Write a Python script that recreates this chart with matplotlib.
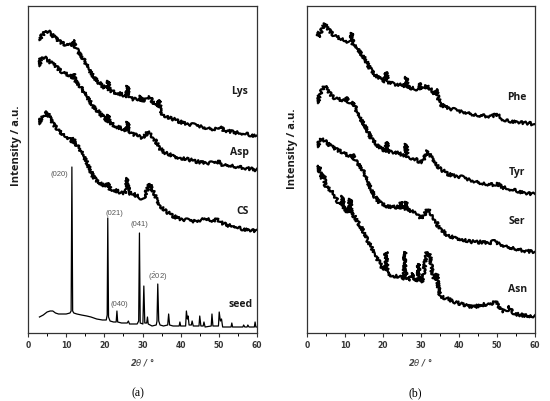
import matplotlib
matplotlib.use("Agg")
import matplotlib.pyplot as plt
from matplotlib.ticker import MultipleLocator


# ---- panel (a) ----
lys_x = [3.0, 3.5, 4.0, 4.5, 5.0, 5.5, 6.0, 6.6, 7.2, 8.0, 9.0, 10.0, 11.0, 11.8, 12.0, 12.3,
         13.0, 14.0, 15.0, 16.0, 16.7, 17.5, 18.4, 19.5, 20.6, 21.0, 21.3, 22.4, 23.5, 25.0,
         25.8, 26.1, 26.5, 27.6, 28.5, 29.3, 29.6, 30.0, 31.0, 31.6, 32.2, 33.3, 34.0, 34.3,
         34.7, 35.2, 36.5, 38.0, 40.0, 41.7, 43.5, 45.0, 47.0, 48.6, 49.6, 50.4, 51.2, 52.5,
         53.7, 55.0, 57.0, 58.5, 60.0]
lys_y = [293, 297, 299, 301, 302, 301, 299, 297, 295, 292, 290, 288, 288, 289, 293, 287,
         282, 277, 271, 264, 259, 255, 251, 247, 244, 252, 243, 241, 240, 238,
         237, 247, 236, 234, 233, 232, 237, 232, 235, 237, 234, 228, 228, 233,
         224, 219, 216, 214, 211, 209, 208, 207, 205, 204, 205, 207, 203, 202,
         201, 200, 199, 198, 197]

asp_x = [3.0, 3.3, 4.0, 4.5, 5.0, 5.8, 6.5, 7.2, 8.0, 9.0, 10.0, 11.0, 11.8, 12.0, 12.3,
         13.6, 14.5, 15.4, 16.2, 17.0, 18.0, 19.0, 20.0, 20.7, 21.0, 21.3, 22.4, 23.4, 25.0,
         25.8, 26.1, 26.5, 27.6, 28.6, 29.5, 30.2, 31.0, 31.6, 32.2, 33.0, 34.0, 34.7, 36.0,
         38.0, 40.0, 41.7, 43.5, 45.0, 47.0, 48.6, 49.6, 50.3, 51.0, 53.0, 55.0, 57.0, 58.5, 60.0]
asp_y = [267, 274, 276, 275, 273, 271, 269, 267, 264, 261, 259, 257, 254, 259, 253,
         247, 242, 237, 232, 227, 223, 219, 215, 212, 218, 211, 208, 206, 204,
         202, 211, 201, 199, 197, 196, 195, 199, 202, 199, 194, 189, 184, 180,
         177, 175, 174, 172, 171, 170, 170, 171, 172, 168, 168, 166, 165, 164, 163]

cs_x = [3.0, 3.3, 4.0, 4.5, 5.0, 5.5, 6.0, 6.6, 7.5, 8.4, 9.2, 10.0, 11.0, 11.8, 12.0, 12.3,
        13.6, 14.5, 15.4, 16.2, 17.0, 18.0, 19.4, 20.5, 21.0, 21.5, 22.5, 24.0, 25.0, 25.7,
        26.0, 26.4, 27.6, 28.6, 29.5, 30.2, 31.0, 31.5, 31.9, 32.5, 33.3, 34.0, 34.7, 35.5,
        36.4, 38.0, 39.9, 41.5, 43.3, 45.0, 46.5, 48.0, 49.0, 49.6, 50.3, 51.5, 53.0, 54.0,
        55.0, 56.4, 58.0, 60.0]
cs_y = [209, 214, 216, 218, 221, 217, 213, 209, 205, 201, 198, 196, 194, 191, 195, 190,
        184, 178, 171, 164, 157, 152, 149, 146, 150, 144, 143, 141, 140, 141,
        155, 140, 139, 137, 135, 134, 141, 148, 149, 144, 137, 132, 127, 124,
        121, 117, 114, 113, 112, 113, 115, 113, 112, 115, 111, 109, 107, 107,
        105, 104, 103, 102]

seed_x = [3.0, 4.0, 5.0, 5.8, 6.5, 7.2, 8.0, 9.0, 10.0, 11.0, 11.3, 11.5, 11.7, 12.0, 12.8,
          14.0, 15.4, 16.5, 18.0, 19.5, 20.5, 20.75, 20.9, 21.1, 21.5, 22.4, 23.1, 23.3, 23.5,
          24.5, 26.0, 26.3, 26.6, 27.6, 28.6, 29.0, 29.2, 29.4, 30.1, 30.35, 30.6, 31.1, 31.3,
          31.5, 32.5, 33.6, 33.8, 34.0, 34.25, 34.6, 35.5, 36.6, 36.85, 37.1, 38.0, 39.6, 39.8,
          40.0, 41.3, 41.5, 41.75, 41.95, 42.2, 42.8, 43.0, 43.3, 44.8, 45.0, 45.3, 45.9, 46.1,
          46.4, 48.0, 48.2, 48.45, 49.9, 50.1, 50.4, 50.7, 51.0, 53.2, 53.4, 53.6, 56.3, 56.5,
          56.8, 57.4, 57.6, 57.9, 59.3, 59.5, 59.7, 60.0]
seed_y = [16, 18, 21, 22, 22, 20, 19, 19, 19, 20, 22, 166, 22, 20, 19,
          18, 17, 16, 14, 13, 13, 18, 115, 16, 12, 11, 11, 22, 11,
          10, 10, 12, 9, 9, 9, 12, 100, 10, 9, 47, 10, 10, 16,
          9, 7, 8, 12, 49, 12, 8, 7, 8, 19, 8, 7, 7, 11,
          7, 7, 22, 14, 17, 8, 8, 12, 7, 7, 17, 7, 7, 11,
          6, 7, 19, 7, 7, 21, 12, 14, 6, 6, 10, 6, 6, 8,
          6, 6, 8, 6, 6, 11, 6, 6]

# ---- panel (b) ----
phe_x = [2.9, 3.0, 3.5, 4.0, 4.7, 5.3, 6.0, 7.0, 7.9, 9.0, 10.0, 11.0, 11.6, 11.8, 12.1,
         13.4, 14.3, 15.3, 16.2, 17.0, 18.0, 18.7, 19.6, 20.5, 20.9, 21.2, 22.0, 23.0, 24.5,
         25.8, 26.1, 26.4, 27.5, 28.4, 29.3, 29.5, 30.0, 31.0, 31.6, 32.2, 32.9, 33.8, 34.1,
         34.5, 35.0, 36.5, 38.0, 40.0, 41.6, 43.5, 45.0, 47.0, 48.7, 49.5, 50.0, 50.6, 52.0,
         53.5, 55.5, 57.5, 59.5, 60.0]
phe_y = [301, 296, 300, 304, 309, 305, 302, 298, 296, 294, 292, 291, 291, 300, 289,
         284, 279, 274, 267, 262, 258, 256, 254, 252, 261, 251, 250, 249, 248,
         247, 256, 246, 245, 244, 244, 250, 244, 246, 247, 245, 242, 238, 244,
         236, 229, 226, 224, 222, 221, 219, 218, 217, 217, 218, 219, 216, 212,
         212, 211, 210, 209, 209]

tyr_x = [2.9, 3.2, 3.5, 4.0, 4.7, 5.5, 6.6, 7.3, 8.2, 9.0, 10.0, 10.3, 11.0, 12.0, 12.2,
         13.4, 14.3, 15.3, 16.2, 17.0, 18.0, 18.7, 19.8, 20.8, 21.0, 21.3, 23.0, 24.5, 25.8,
         26.1, 26.4, 27.5, 28.4, 29.3, 30.2, 31.0, 31.7, 32.3, 33.2, 34.0, 34.5, 35.5, 37.1,
         39.0, 40.6, 42.3, 44.0, 46.0, 47.6, 49.5, 50.0, 51.2, 52.9, 54.0, 55.5, 57.5, 59.5, 60.0]
tyr_y = [230, 237, 240, 243, 247, 242, 237, 235, 234, 233, 232, 236, 230, 227, 231,
         219, 213, 207, 200, 194, 190, 187, 184, 182, 191, 181, 181, 179, 177,
         189, 176, 175, 174, 172, 171, 176, 182, 178, 174, 170, 166, 163, 159,
         157, 156, 154, 152, 150, 149, 148, 150, 146, 144, 143, 142, 140, 139, 139]

ser_x = [2.9, 3.2, 3.6, 4.3, 5.2, 6.6, 8.0, 9.3, 10.5, 11.8, 12.1, 12.5, 13.5, 14.5, 15.3,
         16.0, 17.0, 17.9, 19.0, 19.7, 21.0, 22.4, 23.5, 24.5, 24.8, 25.2, 25.8, 26.1, 26.4,
         27.5, 28.4, 29.3, 30.2, 31.0, 31.8, 32.5, 33.2, 34.0, 34.5, 35.5, 37.1, 39.0, 40.6,
         42.3, 44.0, 46.0, 48.0, 49.5, 50.2, 51.5, 52.9, 54.5, 56.0, 58.0, 59.5, 60.0]
ser_y = [186, 192, 193, 194, 190, 186, 183, 181, 178, 176, 179, 173, 169, 164, 158,
         151, 143, 136, 131, 129, 127, 126, 126, 126, 131, 125, 124, 131, 123,
         122, 121, 118, 114, 119, 124, 120, 116, 111, 107, 103, 97, 95, 94,
         92, 91, 91, 90, 92, 90, 88, 86, 85, 83, 82, 81, 81]

asn_x = [2.9, 3.2, 3.6, 4.0, 4.5, 4.8, 5.5, 6.6, 7.4, 8.2, 9.0, 9.4, 9.8, 10.8, 11.4, 11.8,
         12.6, 13.5, 14.5, 15.3, 16.0, 17.0, 17.9, 18.8, 19.7, 20.4, 20.8, 21.1, 22.4, 23.5,
         24.5, 25.5, 25.8, 26.1, 27.0, 27.9, 28.3, 29.0, 29.3, 29.6, 30.2, 30.8, 31.3, 31.6,
         32.0, 32.4, 32.9, 33.4, 34.0, 34.2, 34.5, 35.0, 36.0, 37.1, 39.0, 40.6, 42.3, 44.0,
         45.8, 47.6, 49.0, 49.5, 50.3, 51.2, 52.5, 53.4, 54.0, 54.7, 56.5, 58.0, 59.5, 60.0]
asn_y = [162, 167, 158, 155, 158, 148, 145, 141, 136, 131, 127, 137, 124, 121, 134, 119,
         116, 110, 104, 98, 92, 85, 79, 72, 66, 63, 81, 61, 57, 57,
         56, 55, 81, 54, 54, 59, 53, 52, 69, 52, 51, 62, 78, 81,
         80, 76, 62, 54, 55, 59, 48, 37, 35, 34, 31, 29, 27, 26,
         28, 29, 30, 32, 28, 22, 22, 26, 20, 19, 18, 17, 17, 17]

left_names = ["Lys", "Asp", "CS", "seed"]
left_label_pos = [(55.5, 242), (55.5, 181), (56.1, 122), (55.8, 29)]
right_names = ["Phe", "Tyr", "Ser", "Asn"]
right_label_pos = [(55.3, 236), (55.3, 161), (55.3, 112), (55.5, 44)]

peak_labels = ["(020)", "(021)", "(041)", "(040)", r"($\mathregular{\bar{2}}$02)"]
peak_label_pos = [(8.1, 159), (22.5, 120), (29.1, 109), (24.0, 29), (34.1, 57)]

LABEL_FONT = dict(family="Open Sans", weight="bold", size=7.5, color="#1a1a1a")


def style_axes(ax):
    ax.set_xlim(0, 60)
    ax.set_ylim(0, 327)
    ax.set_yticks([])
    ax.xaxis.set_major_locator(MultipleLocator(10))
    ax.xaxis.set_minor_locator(MultipleLocator(5))
    ax.tick_params(axis="x", which="major", direction="out", length=3, width=0.8,
                   labelsize=5.5, pad=2, colors="#333333")
    ax.tick_params(axis="x", which="minor", direction="out", length=2, width=0.7)
    for lab in ax.get_xticklabels():
        lab.set_fontweight("bold")
    for s in ax.spines.values():
        s.set_linewidth(0.9)
        s.set_color("#333333")
    ax.set_xlabel(r"2$\it{\theta}$ / °", fontsize=6, fontweight="bold",
                  fontstyle="italic", color="#444444", labelpad=5)


def draw_trace(ax, x, y, lw=1.6, jitter=1.6):
    # noisy-looking band, like the raw diffractogram
    line, = ax.plot(x, y, color="black", lw=lw, solid_joinstyle="round")
    line.set_sketch_params(scale=jitter, length=1.2, randomness=2)
    return line


fig = plt.figure(figsize=(5.5, 4.02), dpi=100)
ax1 = fig.add_axes([28 / 550, 1 - 334 / 402, 229 / 550, 327 / 402])
ax2 = fig.add_axes([307 / 550, 1 - 334 / 402, 228 / 550, 327 / 402])

draw_trace(ax1, lys_x, lys_y)
draw_trace(ax1, asp_x, asp_y)
draw_trace(ax1, cs_x, cs_y)
ax1.plot(seed_x, seed_y, color="black", lw=0.9)

draw_trace(ax2, phe_x, phe_y)
draw_trace(ax2, tyr_x, tyr_y)
draw_trace(ax2, ser_x, ser_y)
draw_trace(ax2, asn_x, asn_y)

for name, (x, y) in zip(left_names, left_label_pos):
    ax1.text(x, y, name, ha="center", va="center", **LABEL_FONT)
for name, (x, y) in zip(right_names, right_label_pos):
    ax2.text(x, y, name, ha="center", va="center", **LABEL_FONT)
for name, (x, y) in zip(peak_labels, peak_label_pos):
    ax1.text(x, y, name, ha="center", va="center", fontsize=5.5, color="#555555",
             family="Liberation Sans")

for ax in (ax1, ax2):
    style_axes(ax)

fig.text(17 / 550, 1 - 146 / 402, "Intensity / a.u.", rotation=90, ha="center", va="center",
         **{**LABEL_FONT, "size": 8})
fig.text(293 / 550, 1 - 149 / 402, "Intensity / a.u.", rotation=90, ha="center", va="center",
         **{**LABEL_FONT, "size": 8})

fig.text(138 / 550, 1 - 393 / 402, "(a)", ha="center", va="center", fontsize=8.5,
         family="Liberation Serif")
fig.text(415 / 550, 1 - 393 / 402, "(b)", ha="center", va="center", fontsize=8.5,
         family="Liberation Serif")

fig.savefig("out.png", dpi=100)
